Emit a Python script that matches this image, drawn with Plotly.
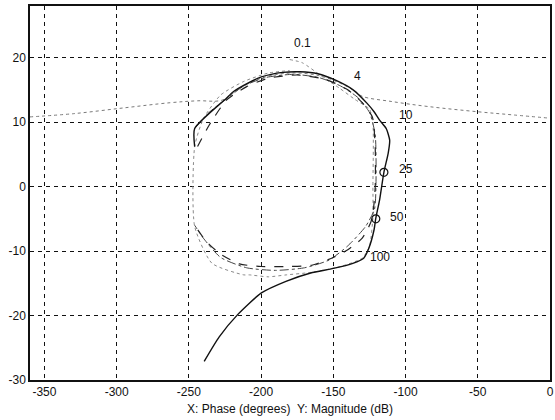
import plotly.graph_objects as go

# Solid open-loop path (phase deg, magnitude dB)
solid_phase = [-239.4, -229, -216.4, -199.8, -182.8, -165.7, -150, -136.5, -129, -125.5,
               -121.8, -120.6, -118, -115, -112, -111, -113.4, -118, -121.8, -126.6,
               -136.3, -148.5, -160.7, -173, -185, -199.8, -209.5, -219.3, -224, -246, -246]
solid_mag = [-27.1, -23.3, -19.9, -16.5, -14.7, -13.4, -12.7, -11.9, -11.1, -9.6,
             -6.7, -4.9, -2.1, 2.2, 5.2, 7.2, 9.0, 10.3, 11.6, 12.9,
             15.0, 16.5, 17.5, 17.8, 17.7, 17.0, 16.0, 14.7, 13.7, 9.0, 6.2]

# Dashed loop
dash_phase = [-244, -236, -224, -210, -195, -175, -155, -140, -130, -123, -121, -121,
              -122, -124, -130, -140, -150, -165, -180, -200, -215, -228, -238, -246]
dash_mag = [6.2, 9.5, 13.4, 15.5, 16.8, 17.3, 16.6, 15.0, 13.0, 10.8, 6.0, 0.0,
            -3.0, -5.5, -8.0, -9.8, -11.0, -12.2, -12.4, -12.4, -12.0, -10.5, -8.5, -6.0]

# Dash-dot loop
dashdot_phase = [-246, -236, -224, -212, -197, -178, -160, -145, -133, -125, -121,
                 -120.5, -121.5, -127.7, -140, -153, -170, -190, -210, -228, -240, -246]
dashdot_mag = [9.0, 11.5, 13.6, 15.6, 16.9, 17.4, 16.9, 15.6, 13.8, 11.5, 8.0,
               0.0, -3.5, -6.2, -9.2, -11.4, -12.6, -13.0, -12.6, -11.0, -8.0, -6.0]

# Dotted (grey) loop
dot_phase = [-180.3, -171.5, -158, -146, -135, -125, -122.6, -122.6, -122.6, -125, -130,
             -145, -165, -182.6, -195, -208, -212, -234, -246, -246, -240, -228, -212, -195, -180.3]
dot_mag = [19.7, 19.2, 17.1, 15.3, 13.5, 12.0, 9.8, 0.0, -4.7, -9.3, -11.1,
           -12.4, -13.3, -13.7, -14.0, -13.7, -13.7, -11.9, -6.2, 6.2, 10.5, 14.2, 16.3, 17.6, 18.0]

# Wide dotted contour
wide_phase = [-360, -330, -295, -263, -244, -227, -215, -200, -180, -160, -145, -135,
              -130, -110, -84, -50, -25, 0]
wide_mag = [10.8, 11.3, 12.2, 13.0, 13.3, 13.4, 15.2, 16.8, 17.6, 17.2, 16.0, 14.8,
            14.0, 13.2, 12.4, 11.6, 11.1, 10.6]

# Marked frequency points
mark_phase = [-115, -120.6]
mark_mag = [2.2, -5.0]

# Frequency labels
label_text = ["0.1", "4", "10", "25", "50", "100"]
label_phase = [-171.6, -133, -99.8, -99.8, -105.9, -117.4]
label_mag = [22.2, 17.1, 11.1, 2.8, -4.65, -10.85]

x_ticks = [-350, -300, -250, -200, -150, -100, -50, 0]
x_ticktext = ["-350", "-300", "-250", "-200", "-150", "-100", "-50", "0"]
y_ticks = [-30, -20, -10, 0, 10, 20]
y_ticktext = ["-30", "-20", "-10", "0", "10", "20"]

fig = go.Figure()
fig.add_trace(go.Scatter(x=wide_phase, y=wide_mag, mode="lines",
                         line=dict(color="#7a7a7a", width=1, dash="dot", shape="spline")))
fig.add_trace(go.Scatter(x=dot_phase, y=dot_mag, mode="lines",
                         line=dict(color="#8a8a8a", width=1, dash="dot", shape="spline", smoothing=0.6)))
fig.add_trace(go.Scatter(x=dashdot_phase, y=dashdot_mag, mode="lines",
                         line=dict(color="#444444", width=1, dash="dashdot", shape="spline", smoothing=0.6)))
fig.add_trace(go.Scatter(x=dash_phase, y=dash_mag, mode="lines",
                         line=dict(color="#222222", width=1.2, dash="dash", shape="spline", smoothing=0.6)))
fig.add_trace(go.Scatter(x=solid_phase, y=solid_mag, mode="lines",
                         line=dict(color="#111111", width=1.4, shape="spline", smoothing=0.6)))
fig.add_trace(go.Scatter(x=mark_phase, y=mark_mag, mode="markers",
                         marker=dict(symbol="circle-open", size=8, color="#111111",
                                     line=dict(width=1.2, color="#111111"))))

for t, px, py in zip(label_text, label_phase, label_mag):
    fig.add_annotation(x=px, y=py, text=t, showarrow=False,
                       font=dict(family="Arial", size=12, color="#111111"))

axis_common = dict(showgrid=True, gridcolor="#111111", gridwidth=1, griddash="4px,4px",
                   zeroline=False, showline=True, linecolor="#111111", linewidth=1.5,
                   mirror=True, ticks="", automargin=False,
                   tickfont=dict(family="Arial", size=12, color="#111111"))

fig.update_layout(
    width=555, height=420,
    margin=dict(l=30, r=5, t=6, b=40),
    paper_bgcolor="white", plot_bgcolor="white",
    showlegend=False,
    xaxis=dict(range=[-360, 0], tickvals=x_ticks, ticktext=x_ticktext,
               title=dict(text="X: Phase (degrees)  Y: Magnitude (dB)",
                          font=dict(family="Arial", size=12, color="#111111"), standoff=6),
               **axis_common),
    yaxis=dict(range=[-30, 28], tickvals=y_ticks, ticktext=y_ticktext, **axis_common),
)

fig.write_html("out.html")
